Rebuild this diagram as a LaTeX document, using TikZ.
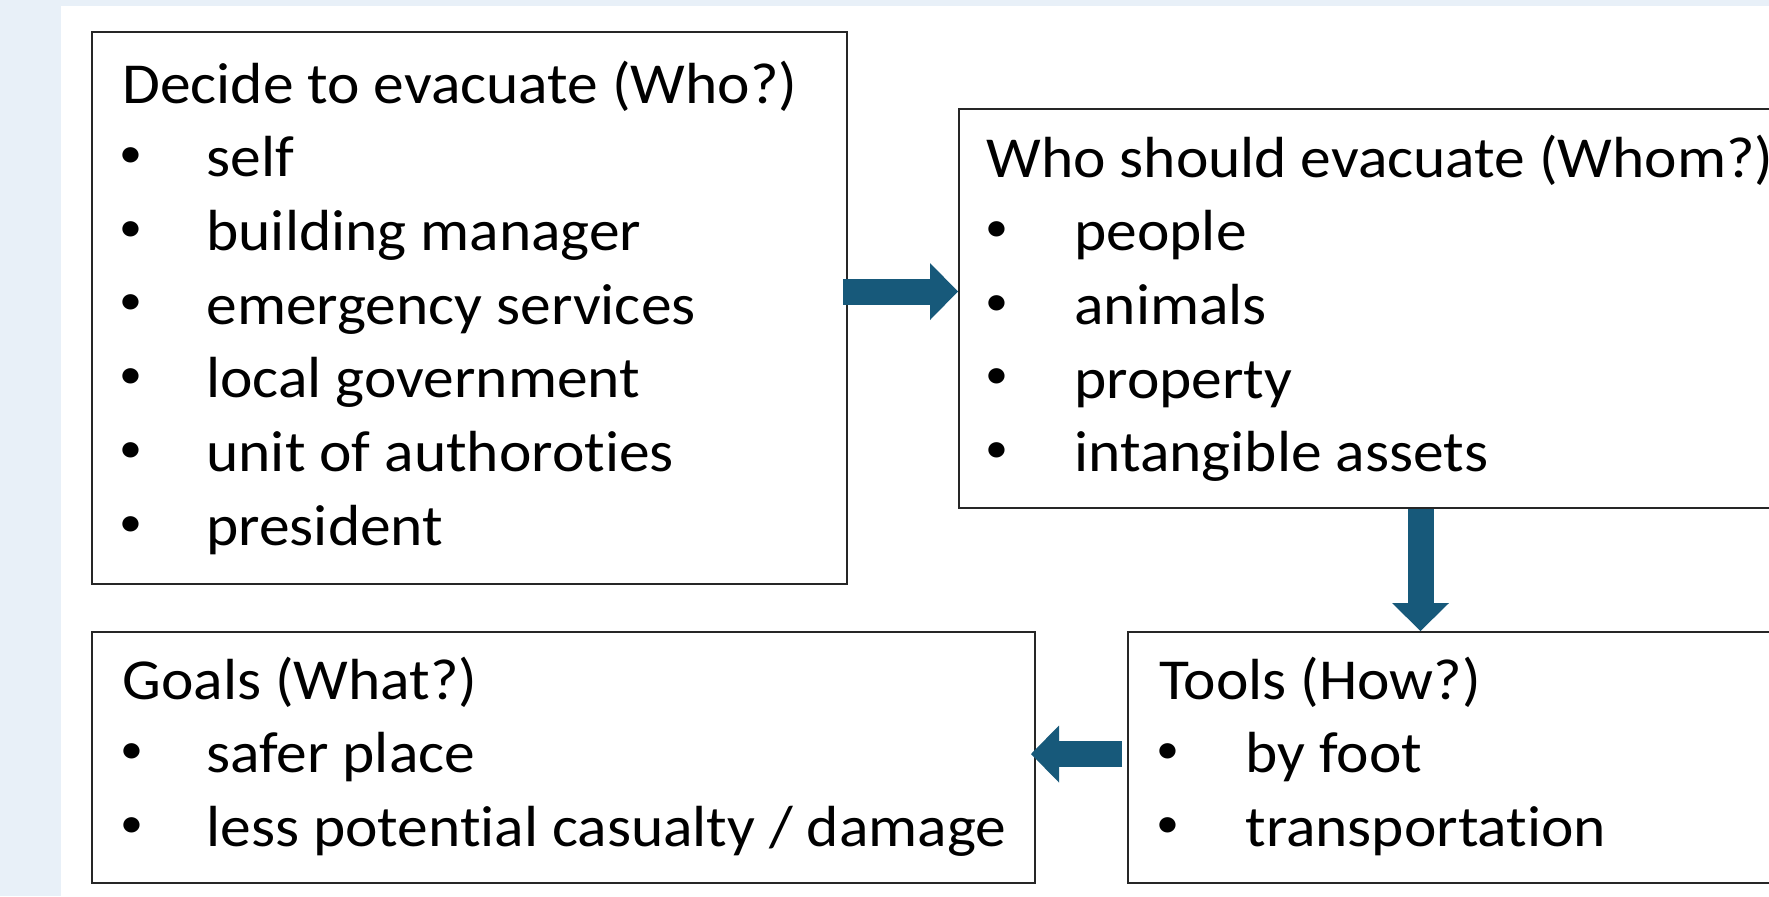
\documentclass[tikz,border=0pt]{standalone}
\usepackage{fontspec}
\setmainfont{Carlito}[FakeStretch=1.06, Ligatures=NoCommon]
\usetikzlibrary{arrows.meta}
\usetikzlibrary{fit}
\usetikzlibrary{calc}

\definecolor{pagebg}{HTML}{E8F0F8}
\definecolor{arrowblue}{HTML}{17597A}

\begin{document}
\begin{tikzpicture}[x=0.5pt, y=-0.5pt,
    box/.style={draw=black!85, line width=1pt, inner sep=0pt},
    txt/.style={anchor=base west, inner sep=0pt, font=\fontsize{29}{35}\selectfont},
    dot/.style={anchor=base, inner sep=0pt, font=\fontsize{21.7}{26}\selectfont},
    flow/.style={draw=arrowblue, line width=13pt, -{Triangle[length=14pt, width=28.5pt, line width=0pt]}}]

        % Page and its light margin
        \useasboundingbox (0,0) rectangle (1769,896);
        \clip (0,0) rectangle (1769,896);
        \fill[pagebg] (0,0) rectangle (1769,896);
        \fill[white] (61,6) rectangle (1769,896);

        % Distance between two text lines
        \def\linestep{73.7}

        % The four boxes
        \node[box, fit={(92,32) (847,584)}] (who) {};
        \node[box, fit={(959,109) (1800,508)}] (whom) {};
        \node[box, fit={(92,632) (1035,883)}] (what) {};
        \node[box, fit={(1128,632) (1800,883)}] (how) {};

        % Who decides
        \node[txt] (who-title) at (122,103) {Decide to evacuate (Who?)};
        \foreach \entry [count=\i] in {self, building manager, emergency services, local government, unit of authoroties, president} {
          \node[dot] (who-b\i) at (131, {103+\i*\linestep}) {\raisebox{4.6pt}{•}};
          \node[txt] (who-i\i) at (206, {103+\i*\linestep}) {\entry};
        }

        % Who is evacuated
        \node[txt] (whom-title) at (986,177) {Who should evacuate (Whom?)};
        \foreach \entry [count=\i] in {people, animals, property, intangible assets} {
          \node[dot] (whom-b\i) at (997, {177+\i*\linestep}) {\raisebox{4.6pt}{•}};
          \node[txt] (whom-i\i) at (1074, {177+\i*\linestep}) {\entry};
        }

        % Goals
        \node[txt] (what-title) at (122,699) {Goals (What?)};
        \foreach \entry [count=\i] in {safer place, less potential casualty / damage} {
          \node[dot] (what-b\i) at (131.5, {699+\i*\linestep}) {\raisebox{4.6pt}{•}};
          \node[txt] (what-i\i) at (206, {699+\i*\linestep}) {\entry};
        }

        % Tools
        \node[txt] (how-title) at (1159,699) {Tools (How?)};
        \foreach \entry [count=\i] in {by foot, transportation} {
          \node[dot] (how-b\i) at (1168, {699+\i*\linestep}) {\raisebox{4.6pt}{•}};
          \node[txt] (how-i\i) at (1245, {699+\i*\linestep}) {\entry};
        }

        % Arrows between the boxes
        \coordinate (drop) at (1420.5,0);
        \draw[flow] ([xshift=-2.5pt, yshift=8.25pt]who.east) -- ([yshift=8.5pt]whom.west);
        \draw[flow] (whom.south -| drop) -- (how.north -| drop);
        \draw[flow] ([xshift=-2.5pt, yshift=1.75pt]how.west) -- ([xshift=-2.5pt, yshift=1.75pt]what.east);

      \end{tikzpicture}
\end{document}
